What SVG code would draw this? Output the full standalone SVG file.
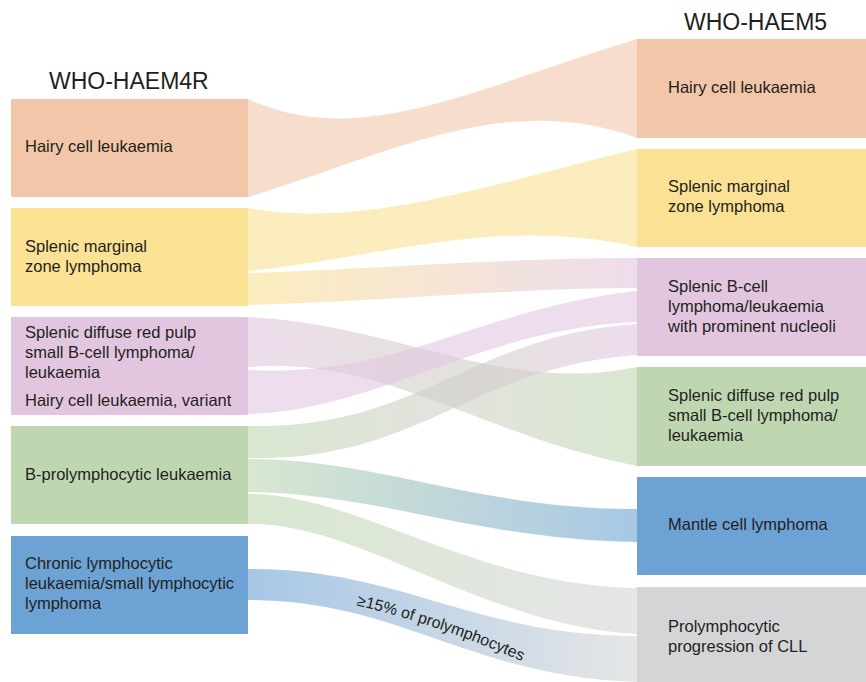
<svg xmlns="http://www.w3.org/2000/svg" width="866" height="682" viewBox="0 0 866 682">
<style>
.t{font-family:"Liberation Sans",Arial,sans-serif;font-size:16.5px;fill:#231F20}
.title{font-family:"Liberation Sans",Arial,sans-serif;font-size:23px;fill:#231F20}
.lbl{font-family:"Liberation Sans",Arial,sans-serif;font-size:16px;fill:#231F20}
.flow{fill-opacity:0.6}
.peach{fill:#F2C6A8}.yellow{fill:#FAE193}.purple{fill:#E2C6DF}.green{fill:#BFD7B0}.blue{fill:#6DA2D4}.grey{fill:#D4D5D7}
</style>
<defs>
<linearGradient id="gYP" gradientUnits="userSpaceOnUse" x1="248" y1="0" x2="637" y2="0"><stop offset="0" stop-color="#FAE193"/><stop offset="1" stop-color="#E2C6DF"/></linearGradient>
<linearGradient id="gPG" gradientUnits="userSpaceOnUse" x1="248" y1="0" x2="637" y2="0"><stop offset="0" stop-color="#E2C6DF"/><stop offset="1" stop-color="#BFD7B0"/></linearGradient>
<linearGradient id="gGP" gradientUnits="userSpaceOnUse" x1="248" y1="0" x2="637" y2="0"><stop offset="0" stop-color="#BFD7B0"/><stop offset="1" stop-color="#E2C6DF"/></linearGradient>
<linearGradient id="gGB" gradientUnits="userSpaceOnUse" x1="248" y1="0" x2="637" y2="0"><stop offset="0" stop-color="#BFD7B0"/><stop offset="1" stop-color="#6DA2D4"/></linearGradient>
<linearGradient id="gGR" gradientUnits="userSpaceOnUse" x1="248" y1="0" x2="637" y2="0"><stop offset="0" stop-color="#BFD7B0"/><stop offset="1" stop-color="#D4D5D7"/></linearGradient>
<linearGradient id="gBR" gradientUnits="userSpaceOnUse" x1="248" y1="0" x2="637" y2="0"><stop offset="0" stop-color="#6DA2D4"/><stop offset="1" stop-color="#D4D5D7"/></linearGradient>
<path id="labelPath" d="M330,599 C400,615 470,635 560,679"/>
</defs>
<rect width="866" height="682" fill="#FFFFFF"/>
<g id="connectors">
<path class="flow peach" d="M248,99 C360,150 470,90 637,39 L637,138 C505,88 380,158 248,197 Z"/>
<path class="flow yellow" d="M248,208 C360,228 470,190 637,149 L637,247 C500,215 380,258 248,271 Z"/>
<path class="flow" fill="url(#gYP)" d="M248,273 C400,268 500,258 637,258 L637,288 C520,288 400,300 248,305 Z"/>
<path class="flow" fill="url(#gPG)" d="M248,317 C400,325 500,395 637,367 L637,466 C480,435 380,355 248,367 Z"/>
<path class="flow purple" d="M248,370 C400,378 480,308 637,291 L637,322 C480,328 380,410 248,414 Z"/>
<path class="flow" fill="url(#gGP)" d="M248,426 C420,430 470,335 637,324 L637,355 C470,367 420,462 248,458 Z"/>
<path class="flow" fill="url(#gGB)" d="M248,459 C380,459 480,510 637,509 L637,542 C480,540 380,494 248,492 Z"/>
<path class="flow" fill="url(#gGR)" d="M248,494 C360,494 470,585 637,588 L637,634 C480,625 360,522 248,524 Z"/>
<path class="flow" fill="url(#gBR)" d="M248,569 C400,568 470,635 637,636 L637,682 C470,677 400,600 248,600 Z"/>
<text class="lbl"><textPath href="#labelPath" startOffset="27">≥15% of prolymphocytes</textPath></text>
</g>
<text class="title" x="49" y="89">WHO-HAEM4R</text>
<text class="title" x="684" y="30">WHO-HAEM5</text>
<g id="l-hcl"><rect class="peach" x="11" y="99" width="237" height="98"/><text class="t" x="25" y="152">Hairy cell leukaemia</text></g>
<g id="l-smzl"><rect class="yellow" x="11" y="208" width="237" height="98"/><text class="t" x="25" y="252">Splenic marginal</text><text class="t" x="25" y="272">zone lymphoma</text></g>
<g id="l-sdrpl"><rect class="purple" x="11" y="317" width="237" height="98"/><text class="t" x="25" y="338">Splenic diffuse red pulp</text><text class="t" x="25" y="358">small B-cell lymphoma/</text><text class="t" x="25" y="378">leukaemia</text><text class="t" x="25" y="406">Hairy cell leukaemia, variant</text></g>
<g id="l-bpll"><rect class="green" x="11" y="426" width="237" height="98"/><text class="t" x="25" y="480">B-prolymphocytic leukaemia</text></g>
<g id="l-cll"><rect class="blue" x="11" y="536" width="237" height="98"/><text class="t" x="25" y="569">Chronic lymphocytic</text><text class="t" x="25" y="589">leukaemia/small lymphocytic</text><text class="t" x="25" y="609">lymphoma</text></g>
<g id="r-hcl"><rect class="peach" x="637" y="39" width="229" height="99"/><text class="t" x="668" y="93">Hairy cell leukaemia</text></g>
<g id="r-smzl"><rect class="yellow" x="637" y="149" width="229" height="98"/><text class="t" x="668" y="192">Splenic marginal</text><text class="t" x="668" y="212">zone lymphoma</text></g>
<g id="r-sblpn"><rect class="purple" x="637" y="258" width="229" height="98"/><text class="t" x="668" y="292">Splenic B-cell</text><text class="t" x="668" y="312">lymphoma/leukaemia</text><text class="t" x="668" y="332">with prominent nucleoli</text></g>
<g id="r-sdrpl"><rect class="green" x="637" y="367" width="229" height="99"/><text class="t" x="668" y="401">Splenic diffuse red pulp</text><text class="t" x="668" y="421">small B-cell lymphoma/</text><text class="t" x="668" y="441">leukaemia</text></g>
<g id="r-mcl"><rect class="blue" x="637" y="477" width="229" height="98"/><text class="t" x="668" y="530">Mantle cell lymphoma</text></g>
<g id="r-pp"><rect class="grey" x="637" y="587" width="229" height="95"/><text class="t" x="668" y="632">Prolymphocytic</text><text class="t" x="668" y="652">progression of CLL</text></g>
</svg>
